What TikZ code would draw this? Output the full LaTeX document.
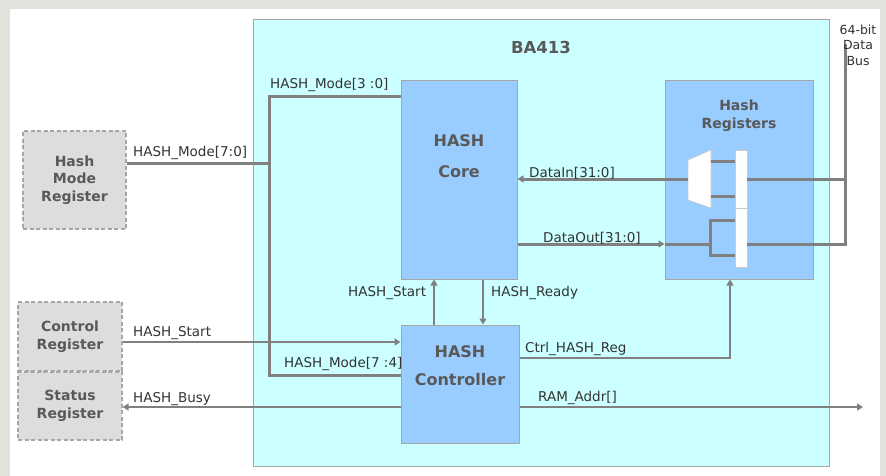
\documentclass[tikz,border=0pt]{standalone}
\usepackage{fontspec}
\setmainfont{DejaVu Sans}
\usetikzlibrary{arrows.meta}
\definecolor{framegray}{HTML}{E3E1DB}
\definecolor{wire}{HTML}{808080}
\definecolor{edge}{HTML}{A6A6A6}
\definecolor{regfill}{HTML}{DDDDDD}
\definecolor{bafill}{HTML}{CCFFFF}
\definecolor{blkfill}{HTML}{99CCFF}
\definecolor{ttltxt}{HTML}{595959}
\definecolor{lbltxt}{HTML}{333333}
\tikzstyle{greg}=[draw=edge, dash pattern=on 4pt off 2.5pt, line width=1.2pt, fill=regfill, inner sep=0, align=center, text=ttltxt, font=\fontsize{14}{17.5}\selectfont\bfseries]
\tikzstyle{blk}=[draw=edge, line width=1pt, fill=blkfill, inner sep=0]
\tikzstyle{ttl}=[text=ttltxt, align=center, inner sep=0]
\tikzstyle{bus}=[draw=wire, line width=3pt]
\tikzstyle{sig}=[draw=wire, line width=1.4pt]
\tikzstyle{arr}=[-{Triangle[length=6pt,width=7pt]}]
\tikzstyle{lbl}=[text=lbltxt, inner sep=0, anchor=base west, font=\fontsize{13.5}{16}\selectfont]

\begin{document}
\begin{tikzpicture}[x=1pt, y=-1pt]
\useasboundingbox (0,0) rectangle (886,476);
% Frame
    \fill[framegray] (0,0) rectangle (886,476);
    \fill[white] (10,9) rectangle (880,476);
% Blocks
    \node[blk, fill=bafill, minimum width=576, minimum height=446] (ba) at (541,243) {};
    \node[ttl, font=\fontsize{16.5}{20}\selectfont\bfseries] (baTitle) at (541,47) {BA413};
    \node[greg, minimum width=103, minimum height=98] (hmr) at (74.5,180) {Hash\\Mode\\Register};
    \node[greg, minimum width=104, minimum height=69] (creg) at (70,336.5) {Control\\Register};
    \node[greg, minimum width=104, minimum height=68] (sreg) at (70,406) {Status\\Register};
    \node[blk, minimum width=116, minimum height=198] (core) at (459,180) {};
    \node[ttl, font=\fontsize{16}{31}\selectfont\bfseries] (coreTitle) at (459,156.5) {HASH\\Core};
    \node[blk, minimum width=118, minimum height=118] (ctrl) at (460,384) {};
    \node[ttl, font=\fontsize{16}{28}\selectfont\bfseries] (ctrlTitle) at (460,366) {HASH\\Controller};
    \node[blk, minimum width=148, minimum height=198] (hreg) at (739,180) {};
    \node[ttl, font=\fontsize{14}{18}\selectfont\bfseries] (hregTitle) at (739,116) {Hash\\Registers};
% Mux and register bars
    \draw[fill=white, draw=edge!60, line width=0.6pt] (688,160) -- (711,150) -- (711,208) -- (688,200) -- cycle;
    \coordinate (muxIn) at (688,179);
    \node[fill=white, draw=edge!60, line width=0.6pt, inner sep=0, minimum width=12, minimum height=58] (rtop) at (741,179) {};
    \node[fill=white, draw=edge!60, line width=0.6pt, inner sep=0, minimum width=12, minimum height=59] (rbot) at (741,237.5) {};
    \draw[bus] (711,161) -- (rtop.west |- 0,161);
    \draw[bus] (711,196) -- (rtop.west |- 0,196);
% Mode bus
    \coordinate (mTop) at (269,97);
    \coordinate (mSplit) at (269,163);
    \coordinate (mBot) at (269,375);
    \draw[bus] (hmr.east |- mSplit) -- (mSplit);
    \draw[bus] (core.west |- mTop) -- (mTop) -- (mBot) -- (ctrl.west |- mBot);
% Data bus
    \coordinate (dBus) at (845,44);
    \coordinate (oJoin) at (710,244);
    \draw[bus] (dBus) |- (rbot.east |- oJoin);
    \draw[bus] (rtop.east) -- (rtop.east -| dBus);
    \draw[bus, arr] (muxIn) -- (core.east |- muxIn);
    \draw[bus, arr] (core.east |- oJoin) -- (hreg.west |- oJoin);
    \draw[bus] (hreg.west |- oJoin) -- (oJoin);
    \draw[bus] (rbot.west |- 0,220) -| (710,255) -- (rbot.west |- 0,255);
% Control signals
    \coordinate (ramEnd) at (863,407);
    \draw[sig, arr] (creg.east |- 0,342) -- (ctrl.west |- 0,342);
    \draw[sig, arr] (ctrl.west |- 0,407) -- (sreg.east |- 0,407);
    \draw[sig, arr] (ctrl.north -| 434,0) -- (core.south -| 434,0);
    \draw[sig, arr] (core.south -| 483,0) -- (ctrl.north -| 483,0);
    \draw[sig, arr] (ctrl.east |- 0,358) -| (hreg.south -| 730,0);
    \draw[sig, arr] (ctrl.east |- ramEnd) -- (ramEnd);
% Labels
    \node[lbl] (lModeAll) at (133,157) {HASH\_Mode[7:0]};
    \node[lbl] (lModeLo) at (270,89) {HASH\_Mode[3 :0]};
    \node[lbl] (lModeHi) at (284,367) {HASH\_Mode[7 :4]};
    \node[lbl] (lStartIn) at (133,336) {HASH\_Start};
    \node[lbl] (lBusy) at (133,402) {HASH\_Busy};
    \node[lbl] (lStart) at (348,296) {HASH\_Start};
    \node[lbl] (lReady) at (491,296) {HASH\_Ready};
    \node[lbl] (lCtrlReg) at (525,352) {Ctrl\_HASH\_Reg};
    \node[lbl] (lRam) at (538,401) {RAM\_Addr[]};
    \node[lbl] (lDataIn) at (529,177) {DataIn[31:0]};
    \node[lbl] (lDataOut) at (543,242) {DataOut[31:0]};
    \node[ttl, text=lbltxt, font=\fontsize{12.5}{15.5}\selectfont] (lBus) at (858,45) {64-bit\\Data\\Bus};
\end{tikzpicture}
\end{document}
